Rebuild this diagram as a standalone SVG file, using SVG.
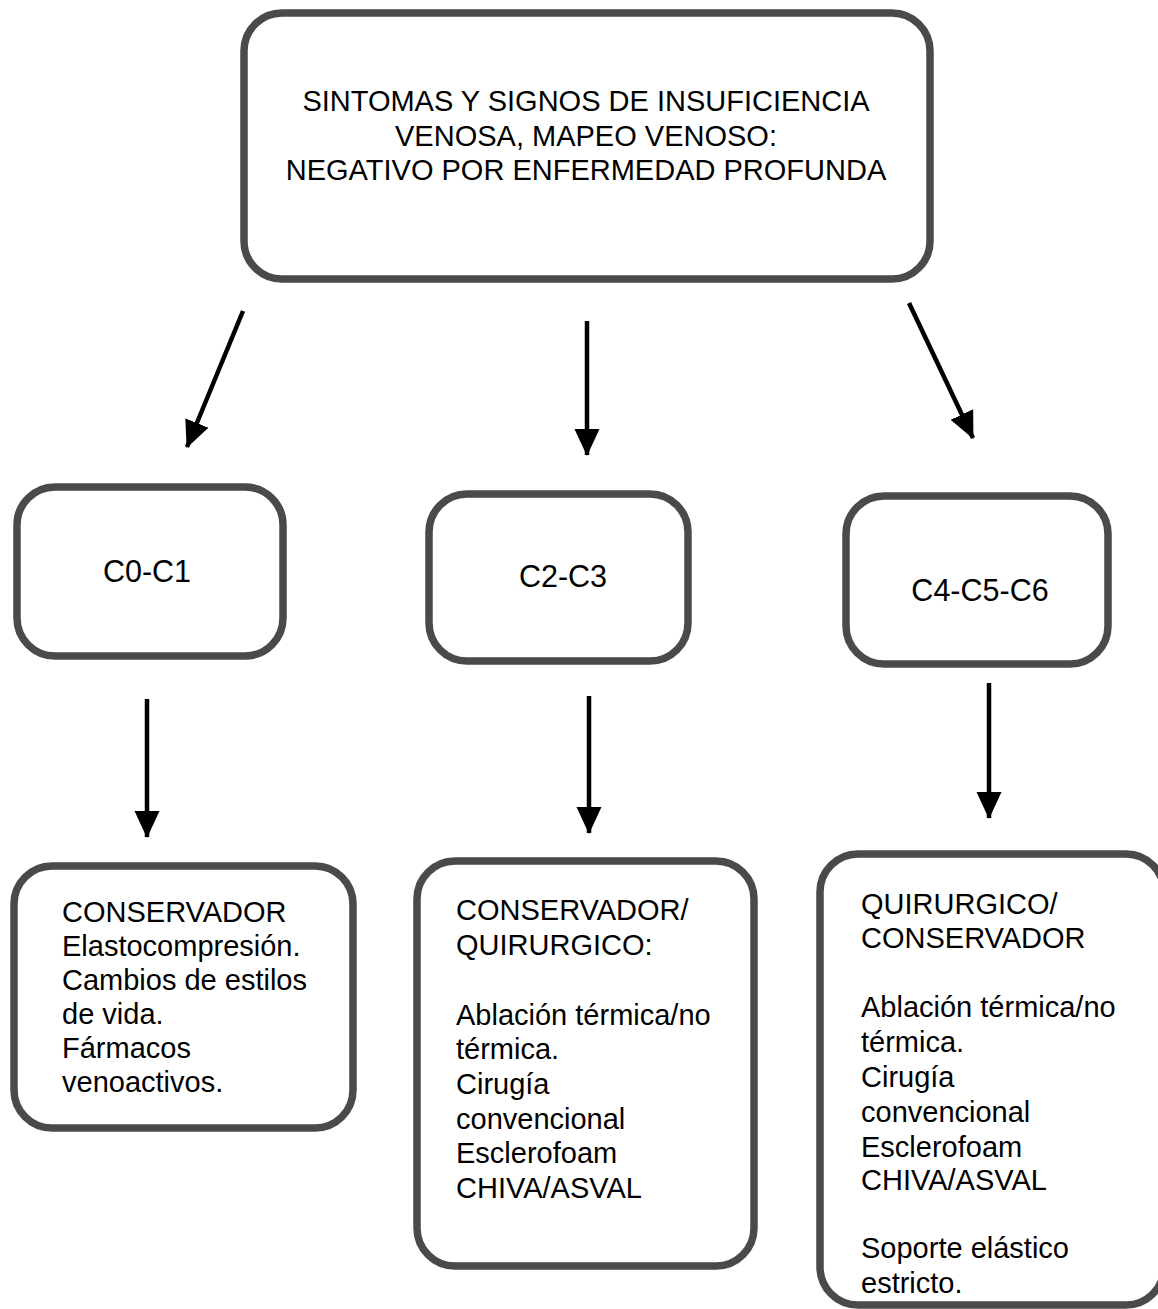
<svg xmlns="http://www.w3.org/2000/svg" width="1158" height="1309" viewBox="0 0 1158 1309">
<style>
.box{fill:#ffffff;stroke:#4a4a4a;stroke-width:7.5}
.t{font-family:"Liberation Sans",Arial,sans-serif;font-size:29px;fill:#000}
.c{text-anchor:middle}
.lb{font-size:30.5px}
.ln{stroke:#000;stroke-width:4.5;fill:none}
</style>
<defs>
<marker id="ah" markerUnits="userSpaceOnUse" markerWidth="27" markerHeight="27" viewBox="0 0 27 27" refX="26" refY="13.5" orient="auto">
<polygon points="0,1 27,13.5 0,26" fill="#000"/>
</marker>
</defs>
<g id="top">
<rect class="box" x="244" y="13" width="686" height="266" rx="38"/>
<text class="t c" x="586" y="111">SINTOMAS Y SIGNOS DE INSUFICIENCIA</text>
<text class="t c" x="586" y="146">VENOSA, MAPEO VENOSO:</text>
<text class="t c" x="586" y="180">NEGATIVO POR ENFERMEDAD PROFUNDA</text>
</g>
<g id="c0c1">
<rect class="box" x="17" y="487" width="266" height="169" rx="38"/>
<text class="t c lb" x="147" y="582">C0-C1</text>
</g>
<g id="c2c3">
<rect class="box" x="429" y="494" width="259" height="167" rx="38"/>
<text class="t c lb" x="563" y="587">C2-C3</text>
</g>
<g id="c4c5c6">
<rect class="box" x="846" y="496" width="262" height="168" rx="38"/>
<text class="t c lb" x="980" y="601">C4-C5-C6</text>
</g>
<g id="t1">
<rect class="box" x="14" y="866" width="339" height="262" rx="38"/>
<text class="t" x="62" y="922">CONSERVADOR</text>
<text class="t" x="62" y="956">Elastocompresión.</text>
<text class="t" x="62" y="990">Cambios de estilos</text>
<text class="t" x="62" y="1024">de vida.</text>
<text class="t" x="62" y="1058">Fármacos</text>
<text class="t" x="62" y="1092">venoactivos.</text>
</g>
<g id="t2">
<rect class="box" x="417" y="861" width="337" height="405" rx="38"/>
<text class="t" x="456" y="920">CONSERVADOR/</text>
<text class="t" x="456" y="955">QUIRURGICO:</text>
<text class="t" x="456" y="1025">Ablación térmica/no</text>
<text class="t" x="456" y="1059">térmica.</text>
<text class="t" x="456" y="1094">Cirugía</text>
<text class="t" x="456" y="1129">convencional</text>
<text class="t" x="456" y="1163">Esclerofoam</text>
<text class="t" x="456" y="1198">CHIVA/ASVAL</text>
</g>
<g id="t3">
<rect class="box" x="820" y="854" width="344" height="451" rx="38"/>
<text class="t" x="861" y="914">QUIRURGICO/</text>
<text class="t" x="861" y="948">CONSERVADOR</text>
<text class="t" x="861" y="1017">Ablación térmica/no</text>
<text class="t" x="861" y="1052">térmica.</text>
<text class="t" x="861" y="1087">Cirugía</text>
<text class="t" x="861" y="1122">convencional</text>
<text class="t" x="861" y="1157">Esclerofoam</text>
<text class="t" x="861" y="1190">CHIVA/ASVAL</text>
<text class="t" x="861" y="1258">Soporte elástico</text>
<text class="t" x="861" y="1293">estricto.</text>
</g>
<g id="connectors">
<line class="ln" x1="243" y1="311" x2="187" y2="447" marker-end="url(#ah)"/>
<line class="ln" x1="587" y1="321" x2="587" y2="455" marker-end="url(#ah)"/>
<line class="ln" x1="909" y1="303" x2="973" y2="438" marker-end="url(#ah)"/>
<line class="ln" x1="147" y1="699" x2="147" y2="837" marker-end="url(#ah)"/>
<line class="ln" x1="589" y1="696" x2="589" y2="833" marker-end="url(#ah)"/>
<line class="ln" x1="989" y1="683" x2="989" y2="818" marker-end="url(#ah)"/>
</g>
</svg>
